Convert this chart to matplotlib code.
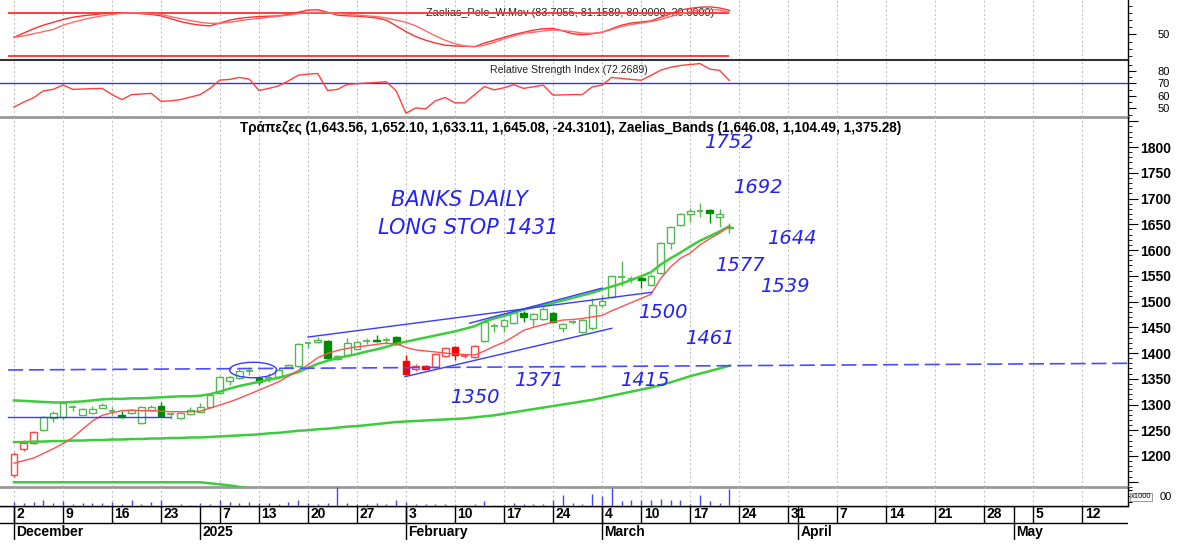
import numpy as np
import matplotlib
matplotlib.use('Agg')
import matplotlib.pyplot as plt
from matplotlib.patches import Rectangle, Ellipse
from matplotlib.ticker import FixedLocator, FuncFormatter

plt.rcParams['font.family'] = ['Liberation Sans', 'DejaVu Sans']

# ---------------- data ----------------
opens = [1163, 1213, 1226, 1251, 1273, 1275, 1294, 1280, 1284, 1294,
         1287, 1280, 1284, 1264, 1290, 1297, 1281, 1273, 1281, 1286,
         1295, 1323, 1346, 1351, 1366, 1352, 1352, 1354, 1373, 1375,
         1420, 1422, 1423, 1388, 1396, 1407, 1423, 1426, 1425, 1431,
         1384, 1369, 1375, 1373, 1395, 1412, 1395, 1393, 1423, 1453,
         1453, 1459, 1478, 1466, 1467, 1478, 1449, 1461, 1440, 1448,
         1493, 1508, 1547, 1543, 1546, 1532, 1555, 1613, 1649, 1670,
         1676, 1677, 1665, 1643.56]
highs = [1207, 1231, 1249, 1277, 1287, 1305, 1300, 1294, 1297, 1303,
         1295, 1287, 1292, 1298, 1299, 1305, 1284, 1285, 1295, 1302,
         1320, 1355, 1356, 1368, 1373, 1354, 1361, 1370, 1378, 1420,
         1422, 1431, 1425, 1397, 1429, 1424, 1429, 1434, 1431, 1433,
         1396, 1379, 1377, 1400, 1412, 1414, 1399, 1416, 1464, 1458,
         1466, 1482, 1482, 1478, 1489, 1480, 1458, 1464, 1466, 1507,
         1513, 1552, 1578, 1549, 1549, 1553, 1616, 1646, 1672, 1682,
         1692, 1679, 1680, 1652.10]
lows = [1160, 1210, 1224, 1249, 1266, 1272, 1287, 1279, 1283, 1293,
        1280, 1274, 1282, 1262, 1288, 1275, 1271, 1272, 1280, 1285,
        1293, 1320, 1338, 1350, 1357, 1338, 1344, 1352, 1371, 1373,
        1410, 1420, 1389, 1386, 1394, 1405, 1418, 1421, 1418, 1416,
        1358, 1365, 1368, 1371, 1393, 1386, 1390, 1391, 1421, 1441,
        1441, 1457, 1460, 1452, 1465, 1458, 1441, 1456, 1438, 1445,
        1490, 1506, 1530, 1536, 1526, 1530, 1553, 1602, 1647, 1655,
        1665, 1653, 1644, 1633.11]
closes = [1203, 1226, 1247, 1275, 1283, 1303, 1295, 1291, 1291, 1300,
          1288, 1275, 1289, 1296, 1296, 1277, 1281, 1283, 1289, 1296,
          1318, 1353, 1354, 1365, 1366, 1344, 1352, 1367, 1377, 1418,
          1420, 1425, 1391, 1394, 1420, 1422, 1423, 1423, 1425, 1418,
          1360, 1375, 1369, 1398, 1410, 1396, 1395, 1414, 1461, 1453,
          1464, 1478, 1469, 1476, 1486, 1461, 1456, 1461, 1464, 1493,
          1501, 1550, 1547, 1543, 1541, 1550, 1614, 1644, 1670, 1675,
          1676, 1671, 1669.4, 1645.08]
# candles coloured red (sell regime): inclusive index ranges
red_ranges = [(0, 2), (40, 47)]

red_ma = [1186, 1191, 1196, 1205, 1214, 1224, 1236, 1252, 1268, 1279,
          1284, 1288, 1289, 1288, 1288, 1287, 1286, 1286, 1286, 1287,
          1293, 1299, 1305, 1312, 1320, 1328, 1336, 1344, 1355, 1366,
          1377, 1391, 1399, 1405, 1409, 1412, 1414, 1417, 1419, 1418,
          1411, 1406, 1404, 1402, 1400, 1398, 1397, 1396, 1404, 1413,
          1421, 1432, 1444, 1450, 1455, 1460, 1464, 1465, 1467, 1470,
          1473, 1482, 1490, 1498, 1506, 1514, 1545, 1567, 1584, 1594,
          1610, 1622, 1633, 1646]
band_upper = [1308, 1307, 1306, 1305, 1304, 1304, 1305, 1306, 1308, 1310,
              1311, 1311, 1312, 1312, 1313, 1314, 1315, 1316, 1316, 1317,
              1320, 1325, 1331, 1336, 1340, 1344, 1348, 1352, 1357, 1363,
              1371, 1379, 1385, 1390, 1394, 1398, 1403, 1407, 1412, 1418,
              1422, 1426, 1430, 1434, 1438, 1442, 1447, 1452, 1461, 1467,
              1472, 1478, 1484, 1489, 1493, 1497, 1502, 1507, 1512, 1517,
              1523, 1529, 1535, 1542, 1549, 1557, 1572, 1584, 1595, 1607,
              1618, 1627, 1636, 1646.08]
band_mid = [1227, 1227, 1228, 1228, 1229, 1229, 1230, 1230, 1231, 1231,
            1232, 1232, 1233, 1233, 1234, 1234, 1235, 1235, 1236, 1236,
            1237, 1238, 1239, 1240, 1241, 1242, 1244, 1245, 1247, 1249,
            1250, 1252, 1253, 1255, 1257, 1258, 1260, 1262, 1264, 1266,
            1267, 1268, 1269, 1270, 1271, 1272, 1273, 1275, 1277, 1279,
            1282, 1285, 1288, 1291, 1294, 1297, 1300, 1303, 1306, 1309,
            1313, 1317, 1321, 1325, 1329, 1333, 1338, 1343, 1349, 1355,
            1360, 1365, 1370, 1375.28]
band_lower = [1149, 1149, 1149, 1149, 1149, 1149, 1149, 1149, 1149, 1149,
              1149, 1149, 1149, 1149, 1149, 1149, 1149, 1149, 1149, 1149,
              1147, 1145, 1143, 1140, 1137, 1134, 1132, 1130, 1128, 1127,
              1126, 1125, 1124, 1123, 1122, 1121, 1120, 1119, 1118, 1117,
              1117, 1116, 1116, 1115, 1115, 1114, 1114, 1113, 1113, 1112,
              1112, 1111, 1111, 1110, 1110, 1109, 1109, 1108, 1108, 1108,
              1107, 1107, 1107, 1106, 1106, 1106, 1105, 1105, 1105, 1105,
              1104.8, 1104.7, 1104.6, 1104.49]
volume = [40, 30, 40, 60, 30, 50, 20, 30, 33, 30,
          40, 23, 57, 23, 40, 57, 13, 23, 13, 30,
          23, 57, 40, 30, 40, 30, 33, 23, 40, 57,
          33, 23, 30, 190, 30, 23, 23, 30, 23, 57,
          40, 23, 17, 17, 23, 13, 13, 23, 50, 13,
          13, 30, 23, 17, 17, 57, 107, 30, 23, 123,
          97, 180, 50, 57, 63, 57, 73, 63, 57, 23,
          107, 47, 33, 167]
rsi = [51, 55, 58.5, 64, 65.2, 68.8, 65.2, 65.5, 65.8, 66,
       61, 57, 61, 61.5, 62, 55.6, 56, 57, 59, 61,
       66, 72.7, 73.2, 74.8, 73.5, 64.3, 66, 68, 72, 76.6,
       77.5, 78, 64.3, 65.2, 69.2, 69.8, 70.3, 70.8, 71.4, 64,
       46, 50.3, 49.5, 56, 58.7, 54.4, 54.4, 61, 67.5, 64.8,
       66.5, 69, 66, 67.3, 68.6, 60.6, 60.8, 61, 61.1, 67.2,
       68.6, 74.8, 74, 73.2, 72.6, 76.5, 80.7, 83, 84.4, 85.2,
       86, 81.5, 80.5, 72.2689]
pele_fast = [46, 52, 58, 63, 67, 71, 74, 76, 77.5, 79,
             80, 80.5, 80, 79, 78, 76, 72, 68, 65, 63,
             62, 66, 70, 72.5, 74, 75, 75.5, 76, 78, 81,
             84, 84.5, 81, 77, 76, 75.5, 74.5, 73, 70, 62,
             54, 47, 42, 38, 35, 34, 33.5, 33, 38, 42,
             46, 50, 53, 56, 58, 58.5, 55, 51, 49.5, 51,
             53, 58, 63, 66, 67.5, 69, 74, 79, 84, 86.5,
             88, 88.5, 87, 83.7055]
pele_slow = [46, 48, 51, 54, 57, 63, 67, 70.5, 73.5, 76,
             78, 79.5, 80.4, 80, 79, 78, 75, 72, 69.5, 67,
             65.5, 65.6, 67, 69, 71, 72.5, 74, 75.5, 77, 79,
             80.4, 81, 80.5, 79.5, 78, 77, 76, 75, 73, 70,
             67, 62, 55, 48, 42, 37, 34, 33, 35, 39,
             44, 48, 51.6, 53, 55, 56.3, 55.5, 54, 52, 51.6,
             53, 57, 61, 64, 66, 68, 71, 75, 79, 82,
             84, 85, 84, 81.1589]
pele_levels = [80, 20]
rsi_level = 70

# hand-drawn trend lines: ((x0, y0), (x1, y1)) in (trading-day index, price)
trend_lines = [((30, 1431), (65.1, 1518)),
               ((46.5, 1458), (60, 1526)),
               ((39.9, 1354), (61, 1448)),
               ((-0.6, 1276), (15.9, 1276))]
support_dashed = ((-0.6, 1367), (113.67, 1380))
ellipse_spec = ((24.4, 1367), 4.8, 30)

annotations = [("1752", 72.96, 1808), ("1692", 75.9, 1722),
               ("BANKS DAILY", 45.4, 1697), ("LONG STOP 1431", 46.3, 1643),
               ("1644", 79.4, 1623), ("1577", 74.1, 1569), ("1539", 78.7, 1530),
               ("1500", 66.2, 1478), ("1461", 71.0, 1429), ("1371", 53.6, 1346),
               ("1415", 64.4, 1346), ("1350", 47.0, 1313)]

tick_idx = [0, 5, 10, 15, 21, 25, 30, 35, 40, 45, 50, 55, 60, 64, 69, 74, 79,
            84, 89, 94, 99, 104, 109]
tick_lbl = ['2', '9', '16', '23', '7', '13', '20', '27', '3', '10', '17', '24',
            '4', '10', '17', '24', '31', '7', '14', '21', '28', '5', '12']
month_idx = [0, 19, 40, 60, 80, 102]
month_lbl = ['December', '2025', 'February', 'March', 'April', 'May']

main_title = ("Τράπεζες (1,643.56, 1,652.10, 1,633.11, 1,645.08, -24.3101), "
              "Zaelias_Bands (1,646.08, 1,104.49, 1,375.28)")
pele_title = "Zaelias_Pele_W.Mov (83.7055, 81.1589, 80.0000, 20.0000)"
rsi_title = "Relative Strength Index (72.2689)"

# ---------------- layout ----------------
W, H = 1177, 546
fig = plt.figure(figsize=(W / 100, H / 100), dpi=100)
fig.patch.set_facecolor('white')
AXR = 1128


def ax_at(top_px, bot_px):
    return fig.add_axes([0, 1 - bot_px / H, AXR / W, (bot_px - top_px) / H])


ax_top = ax_at(0, 60)
ax_rsi = ax_at(60, 117)
ax_main = ax_at(117, 487)
ax_vol = ax_at(487, 506)
ax_date = ax_at(506, 540)
XL = (-14 / 9.8, (AXR - 14) / 9.8)

idx = np.arange(len(closes))

for ax in (ax_top, ax_rsi, ax_main, ax_vol, ax_date):
    ax.set_xlim(*XL)
    ax.set_xticks([])
    for s in ('top', 'left'):
        ax.spines[s].set_visible(False)
    ax.spines['right'].set_color('black')
    ax.spines['right'].set_linewidth(1)
    ax.yaxis.tick_right()
    ax.patch.set_alpha(0)

for ax in (ax_top, ax_rsi, ax_main, ax_vol):
    for t in tick_idx:
        ax.axvline(t, color='#c4c4c4', lw=0.8, ls=(0, (2, 2)), zorder=0)

ax_top.spines['bottom'].set_color('#333333')
ax_top.spines['bottom'].set_linewidth(1.5)
ax_rsi.spines['bottom'].set_color('#999999')
ax_rsi.spines['bottom'].set_linewidth(2)
ax_main.spines['bottom'].set_color('#999999')
ax_main.spines['bottom'].set_linewidth(2)
ax_vol.spines['bottom'].set_color('black')
ax_vol.spines['bottom'].set_linewidth(1)

# ---------------- top panel ----------------
ax_top.set_ylim(14.4, 98.1)
for lv in pele_levels:
    ax_top.hlines(lv, -0.6, idx[-1], color='#ff3b3b', lw=1.4, zorder=3)
ax_top.plot(idx, pele_fast, color='#ff3030', lw=1.0, zorder=4)
ax_top.plot(idx, pele_slow, color='#ff6a6a', lw=1.0, zorder=4)
ax_top.text(0.505, 0.79, pele_title, transform=ax_top.transAxes, ha='center',
            va='center', fontsize=7.8, color='#222222', zorder=2)
ax_top.yaxis.set_major_locator(FixedLocator([50]))
ax_top.yaxis.set_minor_locator(FixedLocator([20, 30, 40, 60, 70, 80, 90]))
ax_top.tick_params(axis='y', which='major', length=6, pad=15, labelsize=8)
ax_top.tick_params(axis='y', which='minor', length=3)

# ---------------- RSI panel ----------------
ax_rsi.set_ylim(43, 88.85)
ax_rsi.axhline(rsi_level, color='#3535d8', lw=1, zorder=3)
ax_rsi.plot(idx, rsi, color='#ff4040', lw=1.0, zorder=4)
ax_rsi.text(0.504, 0.825, rsi_title, transform=ax_rsi.transAxes, ha='center',
            va='center', fontsize=7.6, color='#222222', zorder=2)
ax_rsi.yaxis.set_major_locator(FixedLocator([50, 60, 70, 80]))
ax_rsi.yaxis.set_minor_locator(FixedLocator([45, 55, 65, 75, 85]))
ax_rsi.tick_params(axis='y', which='major', length=6, pad=15, labelsize=8)
ax_rsi.tick_params(axis='y', which='minor', length=3)

# ---------------- main panel ----------------
ax_main.set_ylim(1139.8, 1858.3)
ax_main.yaxis.set_major_locator(FixedLocator(list(range(1150, 1851, 50))))
ax_main.yaxis.set_minor_locator(FixedLocator(list(range(1140, 1860, 10))))
ax_main.yaxis.set_major_formatter(
    FuncFormatter(lambda v, p: '' if v < 1200 or v > 1800 else '%d' % v))
ax_main.tick_params(axis='y', which='major', length=7, pad=2, labelsize=10)
ax_main.tick_params(axis='y', which='minor', length=3)
for lbl in ax_main.get_yticklabels():
    lbl.set_fontweight('bold')

for i in idx:
    o, h, l, c = opens[i], highs[i], lows[i], closes[i]
    red = any(a <= i <= b for a, b in red_ranges)
    edge = '#ff4646' if red else '#52b852'
    fill = '#ff0000' if red else '#008a00'
    col = edge if c >= o else fill
    ax_main.vlines(i, l, h, color=col, lw=1, zorder=4)
    if abs(c - o) < 1.5:
        ax_main.hlines(c, i - 0.35, i + 0.35, color=col, lw=1.3, zorder=5)
    elif c > o:
        ax_main.add_patch(Rectangle((i - 0.35, o), 0.7, c - o, fc='white',
                                    ec=edge, lw=1, zorder=5))
    else:
        ax_main.add_patch(Rectangle((i - 0.35, c), 0.7, o - c, fc=fill,
                                    ec=fill, lw=1, zorder=5))

ax_main.plot(idx, band_lower, color='#3ccc3c', lw=1.8, zorder=6)
ax_main.plot(idx, band_mid, color='#3ccc3c', lw=1.8, zorder=6)
ax_main.plot(idx, band_upper, color='#3ccc3c', lw=1.8, zorder=6)
ax_main.plot(idx, red_ma, color='#ff5050', lw=1, zorder=6)

for (x0, y0), (x1, y1) in trend_lines:
    ax_main.plot([x0, x1], [y0, y1], color='#3a3aff', lw=1, zorder=7)
(sx0, sy0), (sx1, sy1) = support_dashed
ax_main.plot([sx0, sx1], [sy0, sy1], color='#4a4aff', lw=1.2,
             ls=(0, (9, 3.5)), zorder=7)
(ecx, ecy), ew, eh = ellipse_spec
ax_main.add_patch(Ellipse((ecx, ecy), ew, eh, fill=False, ec='#3a3aff',
                          lw=1, zorder=7))

for txt, x, y in annotations:
    fs = 15 if len(txt) > 4 else 14
    ax_main.text(x, y, txt, ha='center', va='center', fontsize=fs,
                 family='DejaVu Sans', style='oblique', color='#2424ee',
                 zorder=8)

ax_main.text(0.506, 0.970, main_title, transform=ax_main.transAxes,
             ha='center', va='center', fontsize=9.8, fontweight='bold',
             color='black', zorder=9)

# ---------------- volume panel ----------------
ax_vol.set_ylim(0, 187)
ax_vol.vlines(idx, 0, volume, color='#4545ff', lw=1, zorder=3)
ax_vol.yaxis.set_major_locator(FixedLocator([40, 100, 160]))
ax_vol.yaxis.set_major_formatter(FuncFormatter(lambda v, p: ''))
ax_vol.tick_params(axis='y', which='major', length=3)
fig.text(1131 / W, 1 - 497 / H, 'x1000', fontsize=5.5, va='center',
         ha='left', bbox=dict(boxstyle='square,pad=0.12', fc='white',
                              ec='#888888', lw=0.6))
fig.text(1160 / W, 1 - 497 / H, '00', fontsize=8, va='center', ha='left')

# ---------------- date axis ----------------
ax_date.set_ylim(0, 2)
ax_date.set_yticks([])
ax_date.spines['right'].set_visible(False)
ax_date.spines['bottom'].set_visible(False)
ax_date.axhline(2, color='black', lw=1)
ax_date.axhline(1, color='black', lw=1)
ax_date.vlines(tick_idx, 1, 2, color='black', lw=1)
ax_date.vlines(month_idx, 0, 2, color='black', lw=1)
for t, s in zip(tick_idx, tick_lbl):
    ax_date.text(t + 0.25, 1.5, s, ha='left', va='center', fontsize=10,
                 fontweight='bold')
for t, s in zip(month_idx, month_lbl):
    ax_date.text(t + 0.25, 0.47, s, ha='left', va='center', fontsize=10,
                 fontweight='bold')

fig.savefig('out.png', dpi=100, facecolor='white')
